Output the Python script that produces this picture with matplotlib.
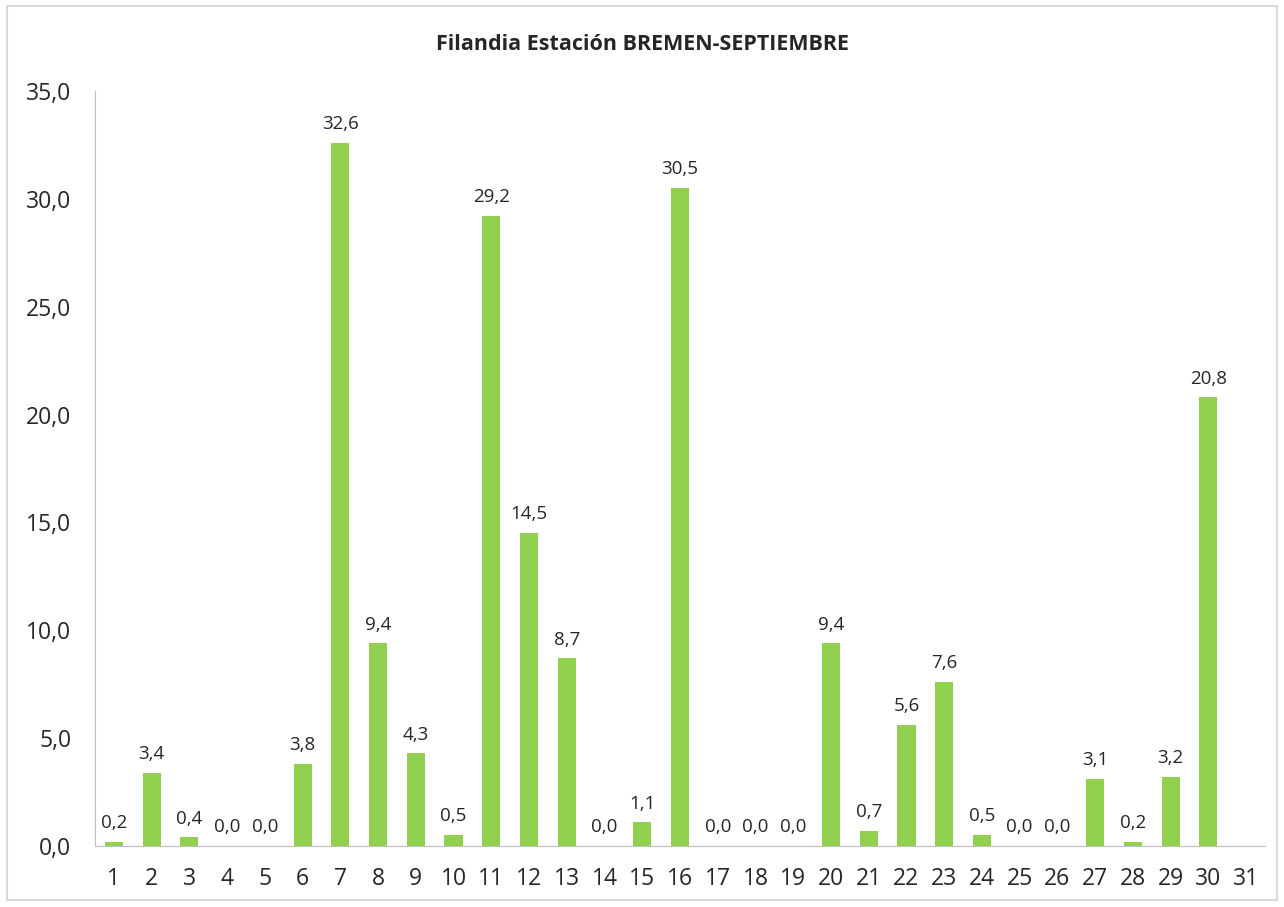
import matplotlib
matplotlib.use("Agg")
import matplotlib.pyplot as plt
from matplotlib.patches import Rectangle

days = [str(d) for d in range(1, 32)]
values = [0.2, 3.4, 0.4, 0.0, 0.0, 3.8, 32.6, 9.4, 4.3, 0.5, 29.2, 14.5, 8.7, 0.0, 1.1,
          30.5, 0.0, 0.0, 0.0, 9.4, 0.7, 5.6, 7.6, 0.5, 0.0, 0.0, 3.1, 0.2, 3.2, 20.8, None]
yticks = [0, 5, 10, 15, 20, 25, 30, 35]
title = "Filandia Estación BREMEN-SEPTIEMBRE"

plt.rcParams['font.family'] = ['Open Sans', 'DejaVu Sans']

fig = plt.figure(figsize=(12.84, 9.07), dpi=100)
ax = fig.add_axes([95/1284, 1-846/907, (1265-95)/1284, (846-91)/907])

xs = list(range(len(days)))
bar_x = [x for x, v in zip(xs, values) if v is not None]
bar_v = [v for v in values if v is not None]
bars = ax.bar(bar_x, bar_v, width=0.48, color='#92D050')
for x, v in zip(bar_x, bar_v):
    ax.annotate(f"{v:.1f}".replace('.', ','), (x, v), xytext=(0, 7), textcoords='offset points',
                ha='center', va='bottom', fontsize=13.5, color='#262626')

ax.set_xlim(-0.5, len(days) - 0.5)
ax.set_ylim(0, 35)
ax.set_xticks(xs)
ax.set_xticklabels(days, fontsize=16.5, color='#262626')
ax.set_yticks(yticks)
ax.set_yticklabels([f"{t:.1f}".replace('.', ',') for t in yticks], fontsize=16.5, color='#262626')
ax.tick_params(axis='both', length=0)
ax.tick_params(axis='y', pad=17)
ax.tick_params(axis='x', pad=15)
for s in ['top', 'right']:
    ax.spines[s].set_visible(False)
ax.spines['left'].set_color('#BFBFBF')
ax.spines['bottom'].set_color('#BFBFBF')

fig.text(0.5, 1-44/907, title, ha='center', va='center', fontsize=15.5, fontweight='bold', color='#262626')

fig.patches.append(Rectangle((7/1284, 1-900/907), (1277-7)/1284, (900-6)/907, transform=fig.transFigure,
                             fill=False, edgecolor='#D9D9D9', linewidth=1.5))

fig.savefig("out.png", dpi=100)
